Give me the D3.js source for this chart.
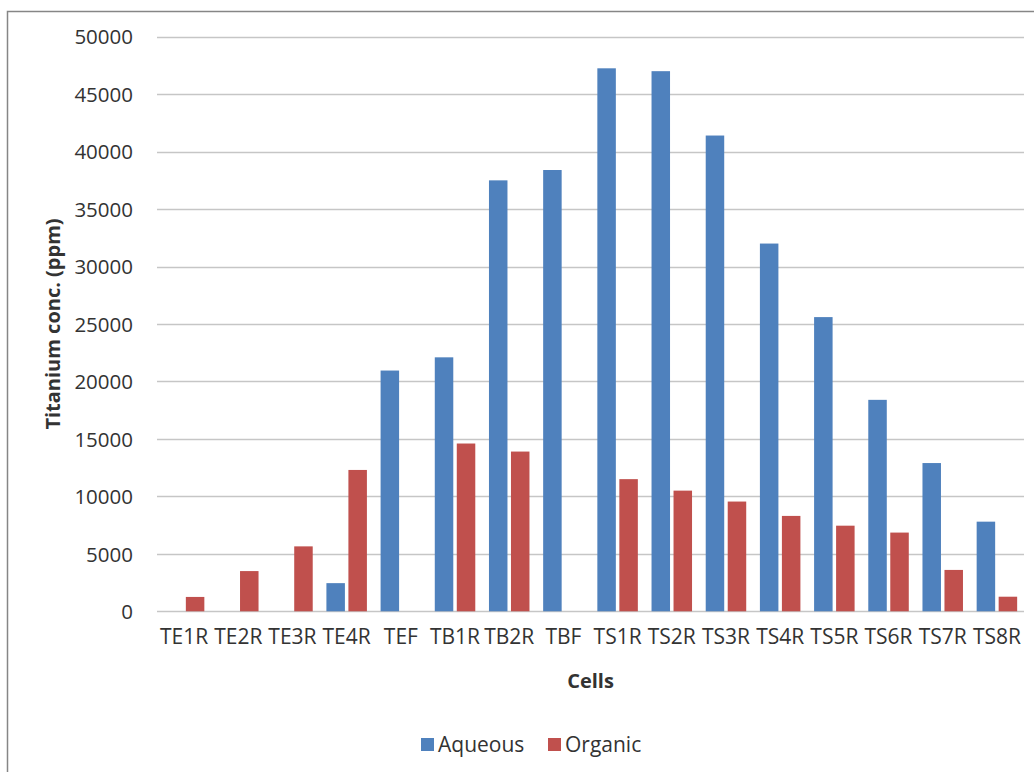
<!DOCTYPE html>
<html>
<head>
<meta charset="utf-8">
<script src="https://cdn.jsdelivr.net/npm/d3@7"></script>
<style>
  html, body { margin: 0; padding: 0; background: #fff; }
  svg { display: block; }
  text { font-family: "Open Sans", "Noto Sans", sans-serif; fill: #333333; }
</style>
</head>
<body>
<svg id="chart" width="1034" height="772"></svg>
<script>
const categories = ["TE1R","TE2R","TE3R","TE4R","TEF","TB1R","TB2R","TBF","TS1R","TS2R","TS3R","TS4R","TS5R","TS6R","TS7R","TS8R"];
const seriesNames = ["Aqueous","Organic"];
const aqueous = [0, 0, 0, 2450, 20950, 22100, 37500, 38400, 47250, 47000, 41400, 32000, 25600, 18400, 12900, 7800];
const organic = [1250, 3500, 5650, 12300, 0, 14600, 13900, 0, 11500, 10500, 9550, 8300, 7450, 6850, 3600, 1270];
const yTicks = [0, 5000, 10000, 15000, 20000, 25000, 30000, 35000, 40000, 45000, 50000];
const colors = ["#4F81BD", "#C0504D"];

const svg = d3.select("#chart");

// outer frame
svg.append("rect").attr("x", 7.5).attr("y", 11.5).attr("width", 1040).attr("height", 770)
  .attr("fill", "none").attr("stroke", "#868686").attr("stroke-width", 1.5);

const pL = 157, pR = 1024, pT = 36.7, pB = 611.3;

const x = d3.scaleBand().domain(categories).range([pL, pR]).paddingInner(0).paddingOuter(0);
const y = d3.scaleLinear().domain([0, 50000]).range([pB, pT]);

// gridlines
svg.append("g").selectAll("line").data(yTicks).join("line")
  .attr("x1", pL).attr("x2", pR)
  .attr("y1", d => Math.round(y(d)) + 0.5).attr("y2", d => Math.round(y(d)) + 0.5)
  .attr("stroke", "#C6C6C6").attr("stroke-width", 1.3);

// y axis labels
const yAxis = d3.axisLeft(y).tickValues(yTicks).tickSize(0).tickPadding(0).tickFormat(d3.format("d"));
const gy = svg.append("g").attr("transform", `translate(${133},0)`).call(yAxis);
gy.select(".domain").remove();
gy.selectAll("text").attr("font-size", 20.5).attr("fill", "#333333")
  .style("font-family", '"Open Sans", sans-serif').attr("dy", "0.35em");

// x axis labels
const xAxis = d3.axisBottom(x).tickSize(0).tickPadding(0);
const gx = svg.append("g").attr("transform", `translate(0,${pB + 17.5})`).call(xAxis);
gx.select(".domain").remove();
gx.selectAll("text").attr("font-size", 21).attr("fill", "#333333")
  .style("font-family", '"Open Sans", sans-serif').attr("dy", "0.71em");

// bars
const barW = 18.5, gap = 3.5;
const groups = [aqueous, organic];
groups.forEach((vals, si) => {
  svg.append("g").selectAll("rect").data(vals.map((v, i) => ({c: categories[i], v}))).join("rect")
    .filter(d => d.v > 0)
    .attr("x", d => x(d.c) + x.bandwidth() / 2 + (si === 0 ? -(barW + gap / 2) : gap / 2))
    .attr("width", barW)
    .attr("y", d => y(d.v))
    .attr("height", d => y(0) - y(d.v))
    .attr("fill", colors[si]);
});

// axis titles
svg.append("text").attr("x", (pL + pR) / 2).attr("y", 687.5)
  .attr("text-anchor", "middle").attr("font-weight", "bold").attr("font-size", 20)
  .text("Cells");
svg.append("text").attr("transform", `translate(60,${(pT + pB) / 2}) rotate(-90)`)
  .attr("text-anchor", "middle").attr("font-weight", "bold").attr("font-size", 20)
  .text("Titanium conc. (ppm)");

// legend
const legendItems = [{name: seriesNames[0], x: 421}, {name: seriesNames[1], x: 548}];
const lg = svg.append("g");
legendItems.forEach((it, i) => {
  lg.append("rect").attr("x", it.x).attr("y", 738).attr("width", 13).attr("height", 13).attr("fill", colors[i]);
  lg.append("text").attr("x", it.x + 17).attr("y", 744.5).attr("dy", "0.35em")
    .attr("font-size", 21).text(it.name);
});
</script>
</body>
</html>
